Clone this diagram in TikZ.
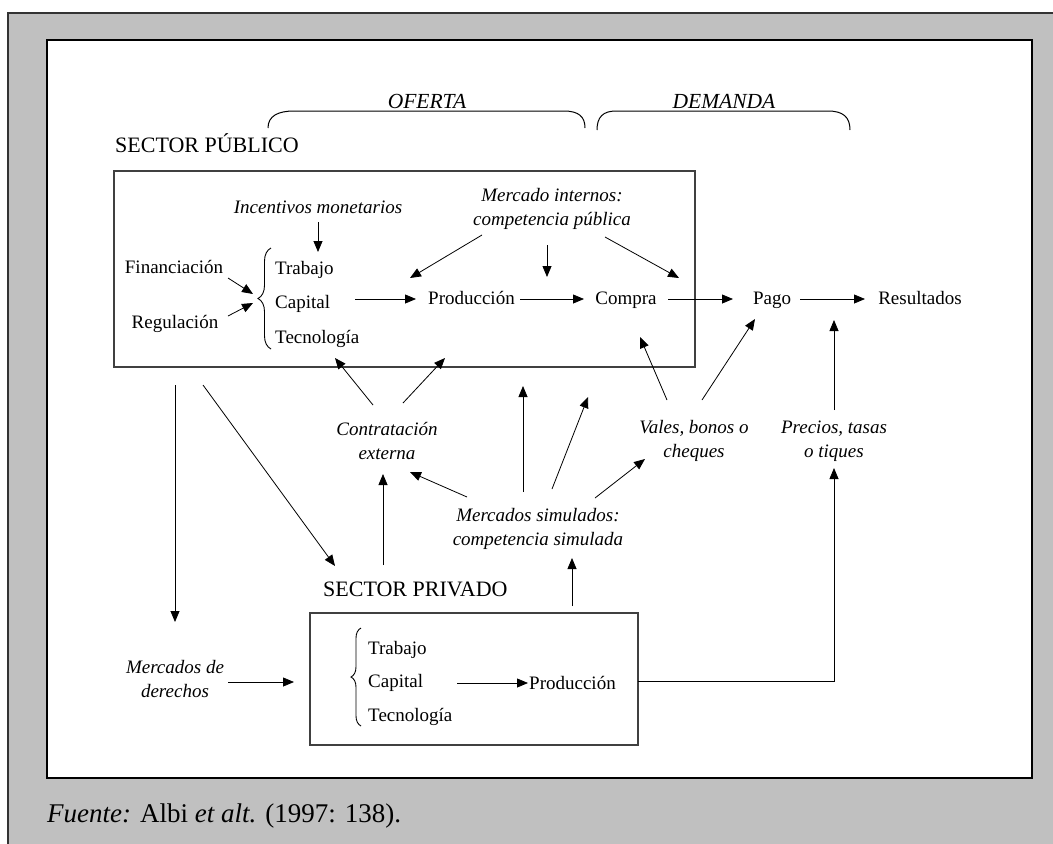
\documentclass[tikz,border=0pt]{standalone}
\usepackage{fontspec}
\setmainfont{Liberation Serif}
\usetikzlibrary{arrows.meta,decorations.pathreplacing}
\definecolor{framegray}{RGB}{192,192,192}
\begin{document}
\begin{tikzpicture}[x=1pt,y=-1pt,
  txt/.style={font=\fontsize{19}{24}\selectfont, inner sep=0pt, align=center},
  itxt/.style={font=\fontsize{19}{24}\selectfont\itshape, inner sep=0pt, align=center},
  sector/.style={font=\fontsize{22}{26}\selectfont, inner sep=0pt, anchor=base west},
  side/.style={font=\fontsize{21.5}{26}\selectfont\itshape, inner sep=0pt, anchor=base},
  panel/.style={draw=black!75, line width=1.3pt, inner sep=0pt, outer sep=0pt, anchor=north west},
  arr/.style={-{Triangle[length=11pt,width=9pt]}, line width=0.8pt},
  link/.style={line width=0.8pt},
  curly/.style={decorate, line width=0.9pt},
  bracket/.style={line width=1pt},
]
\useasboundingbox (0,0) rectangle (1053,844);

% grey frame and white drawing area
\fill[framegray] (8,13) rectangle (1070,860);
\draw[line width=2pt, black!80] (8,860) -- (8,13) -- (1070,13);
\draw[fill=white, line width=2.6pt] (47,40) rectangle (1032,778);

% sector panels
\node[panel, minimum width=581pt, minimum height=196pt] (pub) at (114,171) {};
\node[panel, minimum width=328pt, minimum height=132pt] (priv) at (310,613) {};

% headings
\node[sector] (sp) at (115,152) {SECTOR PÚBLICO};
\node[sector] (spr) at (323,596) {SECTOR PRIVADO};
\node[side] (of) at (427,108) {OFERTA};
\node[side] (dem) at (724,108) {DEMANDA};

% supply / demand brackets
\draw[bracket] (268,128) .. controls (268,116) and (278,111) .. (294,111) -- (564,111)
  .. controls (579,111) and (585,117) .. (585,128);
\draw[bracket] (597,130) .. controls (597,117) and (603,111) .. (616,111) -- (828,111)
  .. controls (843,111) and (850,117) .. (850,130);

% public sector contents
\node[itxt, anchor=base] (inc) at (318,213) {Incentivos monetarios};
\node[itxt] (mint) at (552,209) {Mercado internos:\\competencia pública};
\node[txt, anchor=base] (fin) at (174,273) {Financiación};
\node[txt, anchor=base] (reg) at (175,328) {Regulación};
\node[txt, anchor=base west] (trab) at (275,274) {Trabajo};
\node[txt, anchor=base west] (cap) at (275,308) {Capital};
\node[txt, anchor=base west] (tec) at (275,343) {Tecnología};
\node[txt, anchor=base] (prod) at (471.5,304) {Producción};
\node[txt, anchor=base] (comp) at (626,304) {Compra};
\node[txt, anchor=base] (pago) at (772,304) {Pago};
\node[txt, anchor=base] (res) at (920,304) {Resultados};
\draw[curly, decoration={brace, amplitude=13pt}] (271,349) -- (271,248);

% instruments between the sectors
\node[itxt] (contr) at (387,441) {Contratación\\externa};
\node[itxt] (vales) at (694,441) {Vales, bonos o\\cheques};
\node[itxt] (prec) at (834,441) {Precios, tasas\\o tiques};
\node[itxt] (msim) at (538,529) {Mercados simulados:\\competencia simulada};
\node[itxt] (der) at (175,679) {Mercados de\\derechos};

% private sector contents
\node[txt, anchor=base west] (trab2) at (368,654) {Trabajo};
\node[txt, anchor=base west] (cap2) at (368,687) {Capital};
\node[txt, anchor=base west] (tec2) at (368,721) {Tecnología};
\node[txt, anchor=base] (prod2) at (572.5,689) {Producción};
\draw[curly, decoration={brace, amplitude=10pt}] (361,726) -- (361,628);

% source line
\node[font=\fontsize{27}{32}\selectfont, inner sep=0pt, anchor=base west] (src) at (47,822)
  {\textit{Fuente:} Albi \textit{et alt.} (1997: 138).};

% connector end points
\coordinate (incOut) at (318,222);   \coordinate (facTop) at (318,252);
\coordinate (finOut) at (228,278);   \coordinate (braceUp) at (253,294);
\coordinate (regOut) at (228,316);   \coordinate (braceDn) at (253,303);
\coordinate (capOut) at (355,299);   \coordinate (prodIn) at (416,299);
\coordinate (prodOut) at (520,299);  \coordinate (compIn) at (584,299);
\coordinate (compOut) at (668,299);  \coordinate (pagoIn) at (733,299);
\coordinate (pagoOut) at (800,299);  \coordinate (resIn) at (865,299);
\coordinate (mintL) at (482,235);    \coordinate (prodTop) at (410,278);
\coordinate (mintC) at (547,245);    \coordinate (midTop) at (547,277);
\coordinate (mintR) at (605,237);    \coordinate (compTop) at (679,278);
\coordinate (contrL) at (373,405);   \coordinate (tecBot) at (335,358);
\coordinate (contrR) at (403,403);   \coordinate (prodBot) at (445,358);
\coordinate (valesL) at (667,400);   \coordinate (compBot) at (640,337);
\coordinate (valesR) at (702,400);   \coordinate (pagoBot) at (755,319);
\coordinate (precTop) at (834,410);  \coordinate (resBot) at (834,320);
\coordinate (pubL) at (175,385);     \coordinate (derTop) at (175,622);
\coordinate (pubD) at (203,385);     \coordinate (sprIn) at (335,566);
\coordinate (sprUp) at (383,565);    \coordinate (contrBot) at (383,474);
\coordinate (msimL) at (467,497);    \coordinate (contrIn) at (410,472);
\coordinate (msimU) at (523,492);    \coordinate (pubBotA) at (523,386);
\coordinate (msimUR) at (552,489);   \coordinate (pubBotB) at (588,397);
\coordinate (msimR) at (595,498);    \coordinate (valesIn) at (645,459);
\coordinate (privTop) at (572,606);  \coordinate (msimBot) at (572,558);
\coordinate (derOut) at (228,682);   \coordinate (privIn) at (294,682);
\coordinate (cap2Out) at (457,683);  \coordinate (prod2In) at (528,683);
\coordinate (privOut) at (638,681);  \coordinate (corner) at (834,681);
\coordinate (precBot) at (834,468);

% connectors inside the public sector
\draw[arr] (incOut) -- (facTop);
\draw[arr] (finOut) -- (braceUp);
\draw[arr] (regOut) -- (braceDn);
\draw[arr] (capOut) -- (prodIn);
\draw[arr] (prodOut) -- (compIn);
\draw[arr] (compOut) -- (pagoIn);
\draw[arr] (pagoOut) -- (resIn);
\draw[arr] (mintL) -- (prodTop);
\draw[arr] (mintC) -- (midTop);
\draw[arr] (mintR) -- (compTop);

% connectors from the instruments
\draw[arr] (contrL) -- (tecBot);
\draw[arr] (contrR) -- (prodBot);
\draw[arr] (valesL) -- (compBot);
\draw[arr] (valesR) -- (pagoBot);
\draw[arr] (precTop) -- (resBot);
\draw[arr] (pubL) -- (derTop);
\draw[arr] (pubD) -- (sprIn);
\draw[arr] (sprUp) -- (contrBot);
\draw[arr] (msimL) -- (contrIn);
\draw[arr] (msimU) -- (pubBotA);
\draw[arr] (msimUR) -- (pubBotB);
\draw[arr] (msimR) -- (valesIn);
\draw[arr] (privTop) -- (msimBot);
\draw[arr] (derOut) -- (privIn);
\draw[arr] (cap2Out) -- (prod2In);
\draw[arr] (privOut) -- (corner) -- (precBot);
\end{tikzpicture}
\end{document}
